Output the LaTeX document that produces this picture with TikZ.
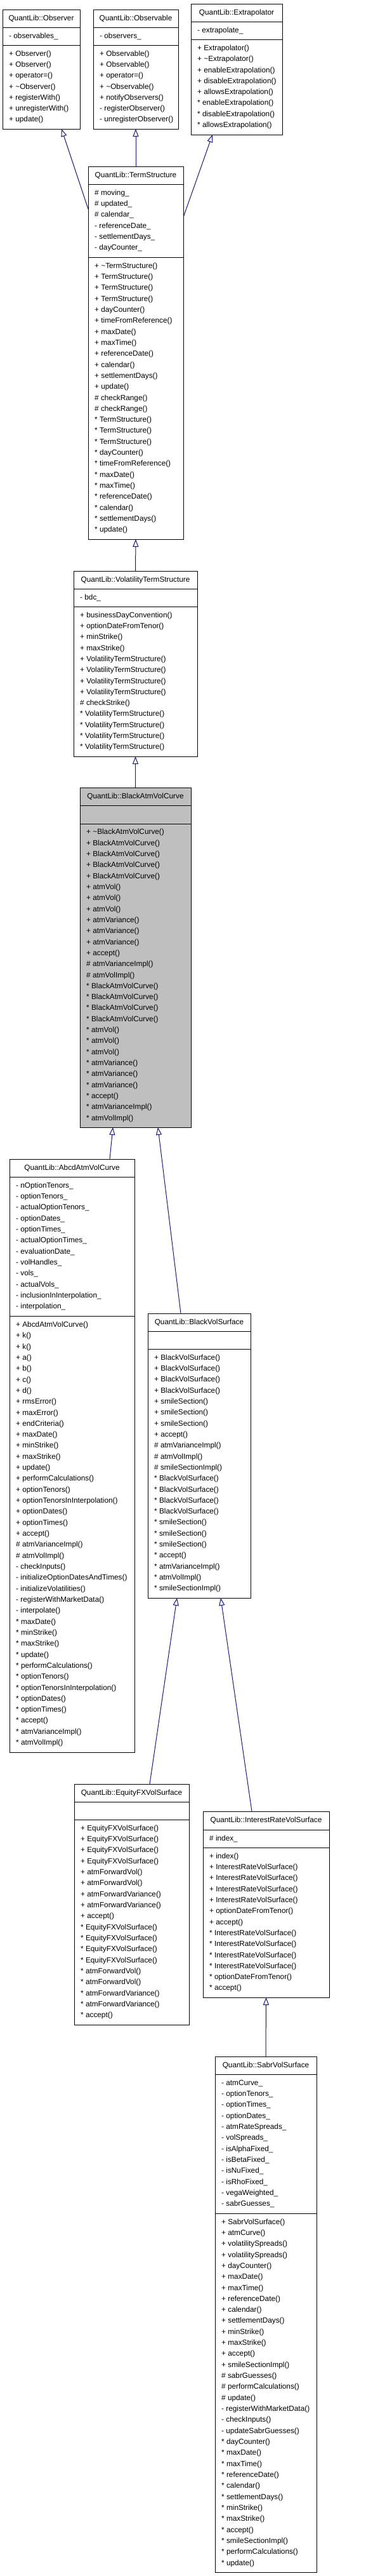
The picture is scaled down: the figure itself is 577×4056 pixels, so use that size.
\documentclass[tikz,border=0pt]{standalone}
\usepackage{fontspec}
\setmainfont{Liberation Sans}
\usetikzlibrary{arrows.meta}
\definecolor{edgeblue}{HTML}{191970}
\definecolor{curgray}{HTML}{BFBFBF}
\newcommand\Ln{\rule[-5.66pt]{0pt}{17.32pt}}
\newcommand\tld{\textasciitilde}
\newcommand\classgeom[8]{%
  \pgfmathsetmacro\cgx{(#2+#3)/2}\pgfmathsetmacro\cgy{-(#4+#7)/2}%
  \pgfmathsetmacro\cgw{#3-#2}\pgfmathsetmacro\cgh{#7-#4}%
  \node[cls,fill=#8,minimum width=\cgw pt,minimum height=\cgh pt] (#1) at (\cgx,\cgy) {};
  \draw[csep] (#2,-#5) -- (#3,-#5);
  \draw[csep] (#2,-#6) -- (#3,-#6);
}
\begin{document}
\begin{tikzpicture}[x=1pt,y=1pt,
  cls/.style={draw=black,line width=1pt,rectangle,inner sep=0pt,outer sep=0pt},
  csep/.style={draw=black,line width=1pt},
  txt/.style={font=\fontsize{11.8}{17.32}\selectfont,align=left,anchor=west,inner sep=0pt},
  ttl/.style={font=\fontsize{11.8}{17.32}\selectfont,anchor=center,inner sep=0pt},
  inh/.style={draw=edgeblue,line width=1pt,-{Triangle[open,length=12pt,width=9pt]}}]
\fill[white] (0,0) rectangle (577,-4056);
\useasboundingbox (0,0) rectangle (577,-4056);

% ---------- Observer
\classgeom{obs}{4}{126}{15}{43}{71}{203}{white}
\node[ttl] (obsT) at ([yshift=-14pt]obs.north) {\Ln QuantLib::Observer};
\node[txt] (obsA) at (14,-57) {\Ln - observables\_};
\node[txt] (obsM) at (14,-137) {\Ln + Observer()\\\Ln + Observer()\\\Ln + operator=()\\\Ln + \tld Observer()\\\Ln + registerWith()\\\Ln + unregisterWith()\\\Ln + update()};

% ---------- Observable
\classgeom{obsv}{147}{281}{15}{43}{71}{203}{white}
\node[ttl] (obsvT) at ([yshift=-14pt]obsv.north) {\Ln QuantLib::Observable};
\node[txt] (obsvA) at (157,-57) {\Ln - observers\_};
\node[txt] (obsvM) at (157,-137) {\Ln + Observable()\\\Ln + Observable()\\\Ln + operator=()\\\Ln + \tld Observable()\\\Ln + notifyObservers()\\\Ln - registerObserver()\\\Ln - unregisterObserver()};

% ---------- Extrapolator
\classgeom{ext}{301}{445}{6}{34}{62}{212}{white}
\node[ttl] (extT) at ([yshift=-14pt]ext.north) {\Ln QuantLib::Extrapolator};
\node[txt] (extA) at (311,-48) {\Ln - extrapolate\_};
\node[txt] (extM) at (311,-137) {\Ln + Extrapolator()\\\Ln + \tld Extrapolator()\\\Ln + enableExtrapolation()\\\Ln + disableExtrapolation()\\\Ln + allowsExtrapolation()\\\Ln * enableExtrapolation()\\\Ln * disableExtrapolation()\\\Ln * allowsExtrapolation()};

% ---------- TermStructure
\classgeom{ts}{139}{289}{262}{290}{405}{849}{white}
\node[ttl] (tsT) at ([yshift=-14pt]ts.north) {\Ln QuantLib::TermStructure};
\node[txt] (tsA) at (149,-347.5) {\Ln \# moving\_\\\Ln \# updated\_\\\Ln \# calendar\_\\\Ln - referenceDate\_\\\Ln - settlementDays\_\\\Ln - dayCounter\_};
\node[txt] (tsM) at (149,-627) {\Ln + \tld TermStructure()\\\Ln + TermStructure()\\\Ln + TermStructure()\\\Ln + TermStructure()\\\Ln + dayCounter()\\\Ln + timeFromReference()\\\Ln + maxDate()\\\Ln + maxTime()\\\Ln + referenceDate()\\\Ln + calendar()\\\Ln + settlementDays()\\\Ln + update()\\\Ln \# checkRange()\\\Ln \# checkRange()\\\Ln * TermStructure()\\\Ln * TermStructure()\\\Ln * TermStructure()\\\Ln * dayCounter()\\\Ln * timeFromReference()\\\Ln * maxDate()\\\Ln * maxTime()\\\Ln * referenceDate()\\\Ln * calendar()\\\Ln * settlementDays()\\\Ln * update()};

% ---------- VolatilityTermStructure
\classgeom{vts}{116}{311}{899}{927}{955}{1191}{white}
\node[ttl] (vtsT) at ([yshift=-14pt]vts.north) {\Ln QuantLib::VolatilityTermStructure};
\node[txt] (vtsA) at (126,-941) {\Ln - bdc\_};
\node[txt] (vtsM) at (126,-1073) {\Ln + businessDayConvention()\\\Ln + optionDateFromTenor()\\\Ln + minStrike()\\\Ln + maxStrike()\\\Ln + VolatilityTermStructure()\\\Ln + VolatilityTermStructure()\\\Ln + VolatilityTermStructure()\\\Ln + VolatilityTermStructure()\\\Ln \# checkStrike()\\\Ln * VolatilityTermStructure()\\\Ln * VolatilityTermStructure()\\\Ln * VolatilityTermStructure()\\\Ln * VolatilityTermStructure()};

% ---------- BlackAtmVolCurve
\classgeom{bavc}{126}{301}{1240}{1268}{1297}{1775}{curgray}
\node[ttl] (bavcT) at ([yshift=-14pt]bavc.north) {\Ln QuantLib::BlackAtmVolCurve};
\node[txt] (bavcM) at (136,-1536) {\Ln + \tld BlackAtmVolCurve()\\\Ln + BlackAtmVolCurve()\\\Ln + BlackAtmVolCurve()\\\Ln + BlackAtmVolCurve()\\\Ln + BlackAtmVolCurve()\\\Ln + atmVol()\\\Ln + atmVol()\\\Ln + atmVol()\\\Ln + atmVariance()\\\Ln + atmVariance()\\\Ln + atmVariance()\\\Ln + accept()\\\Ln \# atmVarianceImpl()\\\Ln \# atmVolImpl()\\\Ln * BlackAtmVolCurve()\\\Ln * BlackAtmVolCurve()\\\Ln * BlackAtmVolCurve()\\\Ln * BlackAtmVolCurve()\\\Ln * atmVol()\\\Ln * atmVol()\\\Ln * atmVol()\\\Ln * atmVariance()\\\Ln * atmVariance()\\\Ln * atmVariance()\\\Ln * accept()\\\Ln * atmVarianceImpl()\\\Ln * atmVolImpl()};

% ---------- AbcdAtmVolCurve
\classgeom{abcd}{15}{212}{1825}{1853}{2072}{2759}{white}
\node[ttl] (abcdT) at ([yshift=-14pt]abcd.north) {\Ln QuantLib::AbcdAtmVolCurve};
\node[txt] (abcdA) at (25,-1962.5) {\Ln - nOptionTenors\_\\\Ln - optionTenors\_\\\Ln - actualOptionTenors\_\\\Ln - optionDates\_\\\Ln - optionTimes\_\\\Ln - actualOptionTimes\_\\\Ln - evaluationDate\_\\\Ln - volHandles\_\\\Ln - vols\_\\\Ln - actualVols\_\\\Ln - inclusionInInterpolation\_\\\Ln - interpolation\_};
\node[txt] (abcdM) at (25,-2415.5) {\Ln + AbcdAtmVolCurve()\\\Ln + k()\\\Ln + k()\\\Ln + a()\\\Ln + b()\\\Ln + c()\\\Ln + d()\\\Ln + rmsError()\\\Ln + maxError()\\\Ln + endCriteria()\\\Ln + maxDate()\\\Ln + minStrike()\\\Ln + maxStrike()\\\Ln + update()\\\Ln + performCalculations()\\\Ln + optionTenors()\\\Ln + optionTenorsInInterpolation()\\\Ln + optionDates()\\\Ln + optionTimes()\\\Ln + accept()\\\Ln \# atmVarianceImpl()\\\Ln \# atmVolImpl()\\\Ln - checkInputs()\\\Ln - initializeOptionDatesAndTimes()\\\Ln - initializeVolatilities()\\\Ln - registerWithMarketData()\\\Ln - interpolate()\\\Ln * maxDate()\\\Ln * minStrike()\\\Ln * maxStrike()\\\Ln * update()\\\Ln * performCalculations()\\\Ln * optionTenors()\\\Ln * optionTenorsInInterpolation()\\\Ln * optionDates()\\\Ln * optionTimes()\\\Ln * accept()\\\Ln * atmVarianceImpl()\\\Ln * atmVolImpl()};

% ---------- BlackVolSurface
\classgeom{bvs}{233}{395}{2068}{2096}{2124}{2516}{white}
\node[ttl] (bvsT) at ([yshift=-14pt]bvs.north) {\Ln QuantLib::BlackVolSurface};
\node[txt] (bvsM) at (243,-2320) {\Ln + BlackVolSurface()\\\Ln + BlackVolSurface()\\\Ln + BlackVolSurface()\\\Ln + BlackVolSurface()\\\Ln + smileSection()\\\Ln + smileSection()\\\Ln + smileSection()\\\Ln + accept()\\\Ln \# atmVarianceImpl()\\\Ln \# atmVolImpl()\\\Ln \# smileSectionImpl()\\\Ln * BlackVolSurface()\\\Ln * BlackVolSurface()\\\Ln * BlackVolSurface()\\\Ln * BlackVolSurface()\\\Ln * smileSection()\\\Ln * smileSection()\\\Ln * smileSection()\\\Ln * accept()\\\Ln * atmVarianceImpl()\\\Ln * atmVolImpl()\\\Ln * smileSectionImpl()};

% ---------- EquityFXVolSurface
\classgeom{efx}{117}{298}{2809}{2837}{2865}{3188}{white}
\node[ttl] (efxT) at ([yshift=-14pt]efx.north) {\Ln QuantLib::EquityFXVolSurface};
\node[txt] (efxM) at (127,-3026.5) {\Ln + EquityFXVolSurface()\\\Ln + EquityFXVolSurface()\\\Ln + EquityFXVolSurface()\\\Ln + EquityFXVolSurface()\\\Ln + atmForwardVol()\\\Ln + atmForwardVol()\\\Ln + atmForwardVariance()\\\Ln + atmForwardVariance()\\\Ln + accept()\\\Ln * EquityFXVolSurface()\\\Ln * EquityFXVolSurface()\\\Ln * EquityFXVolSurface()\\\Ln * EquityFXVolSurface()\\\Ln * atmForwardVol()\\\Ln * atmForwardVol()\\\Ln * atmForwardVariance()\\\Ln * atmForwardVariance()\\\Ln * accept()};

% ---------- InterestRateVolSurface
\classgeom{irvs}{320}{519}{2852}{2881}{2909}{3145}{white}
\node[ttl] (irvsT) at ([yshift=-14.5pt]irvs.north) {\Ln QuantLib::InterestRateVolSurface};
\node[txt] (irvsA) at (330,-2895) {\Ln \# index\_};
\node[txt] (irvsM) at (330,-3027) {\Ln + index()\\\Ln + InterestRateVolSurface()\\\Ln + InterestRateVolSurface()\\\Ln + InterestRateVolSurface()\\\Ln + InterestRateVolSurface()\\\Ln + optionDateFromTenor()\\\Ln + accept()\\\Ln * InterestRateVolSurface()\\\Ln * InterestRateVolSurface()\\\Ln * InterestRateVolSurface()\\\Ln * InterestRateVolSurface()\\\Ln * optionDateFromTenor()\\\Ln * accept()};

% ---------- SabrVolSurface
\classgeom{sabr}{339}{499}{3238}{3266}{3485}{4050}{white}
\node[ttl] (sabrT) at ([yshift=-14pt]sabr.north) {\Ln QuantLib::SabrVolSurface};
\node[txt] (sabrA) at (349,-3375.5) {\Ln - atmCurve\_\\\Ln - optionTenors\_\\\Ln - optionTimes\_\\\Ln - optionDates\_\\\Ln - atmRateSpreads\_\\\Ln - volSpreads\_\\\Ln - isAlphaFixed\_\\\Ln - isBetaFixed\_\\\Ln - isNuFixed\_\\\Ln - isRhoFixed\_\\\Ln - vegaWeighted\_\\\Ln - sabrGuesses\_};
\node[txt] (sabrM) at (349,-3767.5) {\Ln + SabrVolSurface()\\\Ln + atmCurve()\\\Ln + volatilitySpreads()\\\Ln + volatilitySpreads()\\\Ln + dayCounter()\\\Ln + maxDate()\\\Ln + maxTime()\\\Ln + referenceDate()\\\Ln + calendar()\\\Ln + settlementDays()\\\Ln + minStrike()\\\Ln + maxStrike()\\\Ln + accept()\\\Ln + smileSectionImpl()\\\Ln \# sabrGuesses()\\\Ln \# performCalculations()\\\Ln \# update()\\\Ln - registerWithMarketData()\\\Ln - checkInputs()\\\Ln - updateSabrGuesses()\\\Ln * dayCounter()\\\Ln * maxDate()\\\Ln * maxTime()\\\Ln * referenceDate()\\\Ln * calendar()\\\Ln * settlementDays()\\\Ln * minStrike()\\\Ln * maxStrike()\\\Ln * accept()\\\Ln * smileSectionImpl()\\\Ln * performCalculations()\\\Ln * update()};

% ---------- inheritance connectors
\draw[inh] ([yshift=-67pt]ts.north west) -- ([xshift=32pt]obs.south);
\draw[inh] (ts.north) -- (obsv.south);
\draw[inh] ([yshift=-80pt]ts.north east) -- ([xshift=-38pt]ext.south);
\draw[inh] (vts.north) -- (ts.south);
\draw[inh] (bavc.north) -- (vts.south);
\draw[inh] ([xshift=59.5pt]abcd.north) -- ([xshift=-35.5pt]bavc.south);
\draw[inh] ([xshift=-29pt]bvs.north) -- ([xshift=35.5pt]bavc.south);
\draw[inh] ([xshift=28.5pt]efx.north) -- ([xshift=-35pt]bvs.south);
\draw[inh] ([xshift=-22.5pt]irvs.north) -- ([xshift=34pt]bvs.south);
\draw[inh] (sabr.north) -- (irvs.south);
\end{tikzpicture}
\end{document}
